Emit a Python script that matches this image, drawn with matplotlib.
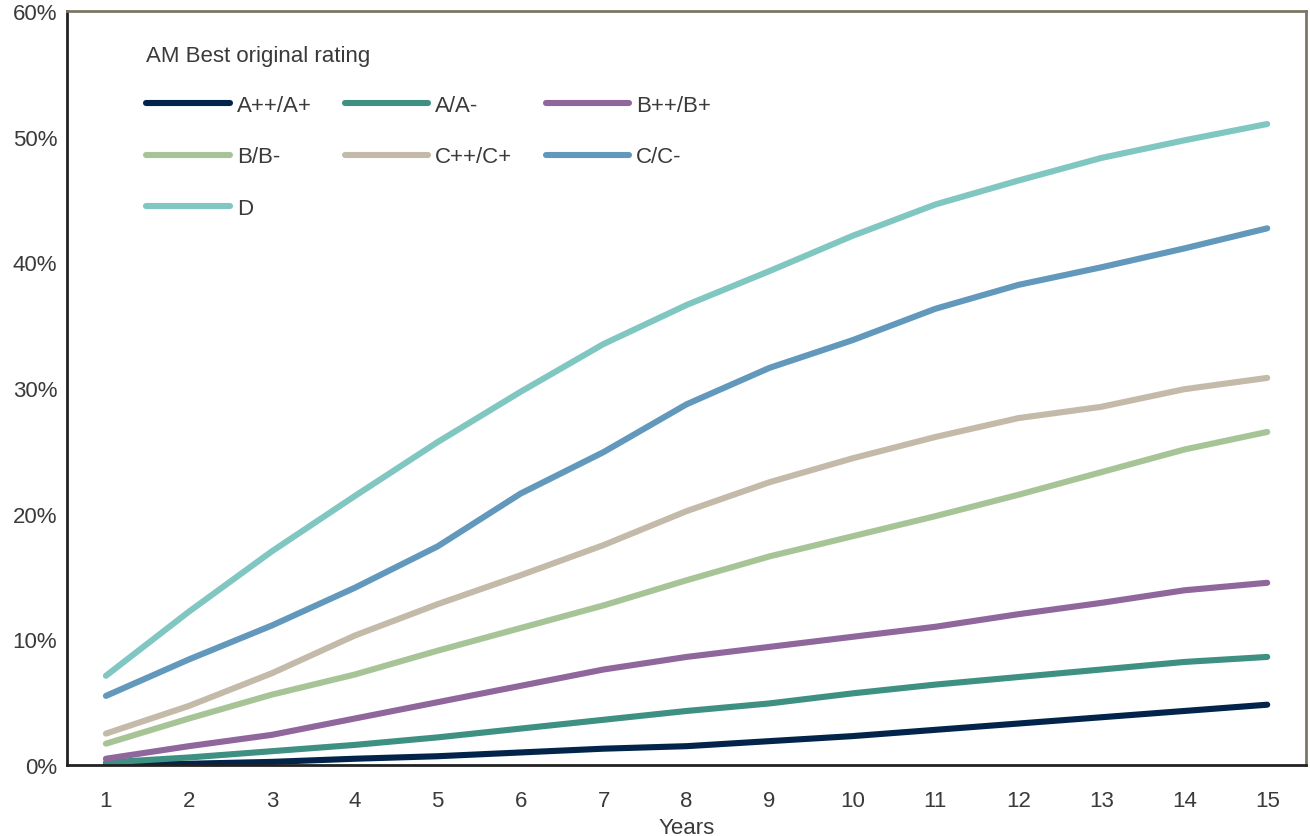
import matplotlib.pyplot as plt

years = list(range(1, 16))

# cumulative impairment rates (%) by AM Best original rating
a_plus = [0.0, 0.1, 0.25, 0.5, 0.7, 1.0, 1.3, 1.5, 1.9, 2.3, 2.8, 3.3, 3.8, 4.3, 4.8]
a_minus = [0.2, 0.6, 1.1, 1.6, 2.2, 2.9, 3.6, 4.3, 4.9, 5.7, 6.4, 7.0, 7.6, 8.2, 8.6]
b_plus = [0.5, 1.5, 2.4, 3.7, 5.0, 6.3, 7.6, 8.6, 9.4, 10.2, 11.0, 12.0, 12.9, 13.9, 14.5]
b_minus = [1.7, 3.7, 5.6, 7.2, 9.1, 10.9, 12.7, 14.7, 16.6, 18.2, 19.8, 21.5, 23.3, 25.1, 26.5]
c_plus = [2.5, 4.7, 7.3, 10.3, 12.8, 15.1, 17.5, 20.2, 22.5, 24.4, 26.1, 27.6, 28.5, 29.9, 30.8]
c_minus = [5.5, 8.4, 11.1, 14.1, 17.4, 21.6, 24.9, 28.7, 31.6, 33.8, 36.3, 38.2, 39.6, 41.1, 42.7]
d_rating = [7.1, 12.2, 17.0, 21.4, 25.7, 29.7, 33.5, 36.6, 39.3, 42.1, 44.6, 46.5, 48.3, 49.7, 51.0]

labels = ['A++/A+', 'A/A-', 'B++/B+', 'B/B-', 'C++/C+', 'C/C-', 'D']
colors = ['#03244a', '#3e9082', '#8f679d', '#a7c497', '#c4baa9', '#6198bb', '#80c6c1']
series = [a_plus, a_minus, b_plus, b_minus, c_plus, c_minus, d_rating]

plt.rcParams['font.family'] = ['Liberation Sans', 'DejaVu Sans']
text_color = '#3a3a3a'
fs = 16

fig = plt.figure(figsize=(13.1, 8.37), dpi=100)
ax = fig.add_axes([0.0511, 0.0848, 0.946, 0.901])

lines = {}
for vals, lab, col in zip(series, labels, colors):
    ln, = ax.plot(years, vals, color=col, lw=4.4, solid_capstyle='round', label=lab)
    lines[lab] = ln

ax.set_xlim(0.53, 15.47)
ax.set_ylim(0, 60)
ax.set_xticks(years)
ax.set_yticks(range(0, 61, 10))
ax.set_yticklabels([f'{v}%' for v in range(0, 61, 10)])
ax.tick_params(length=0, labelsize=fs, colors=text_color)
ax.tick_params(axis='y', pad=7)
ax.tick_params(axis='x', pad=18)
ax.set_xlabel('Years', fontsize=fs, color=text_color, labelpad=4)

ax.spines['left'].set_color('#222222')
ax.spines['bottom'].set_color('#222222')
ax.spines['top'].set_color('#7d7565')
ax.spines['right'].set_color('#7d7565')
for s in ax.spines.values():
    s.set_linewidth(2)

# legend filled row-wise: reorder for column-major layout
order = ['A++/A+', 'B/B-', 'D', 'A/A-', 'C++/C+', 'B++/B+', 'C/C-']
leg = ax.legend([lines[k] for k in order], order, ncol=3, loc='upper left',
                bbox_to_anchor=(0.057, 0.967), frameon=False, fontsize=fs,
                title='AM Best original rating', title_fontsize=fs,
                alignment='left', handlelength=3.74, handletextpad=0.32,
                labelspacing=1.38, columnspacing=1.5, borderaxespad=0)
for t in leg.get_texts():
    t.set_color(text_color)
leg.get_title().set_color(text_color)
leg._legend_box.sep = 21

fig.savefig('out.png', dpi=100)
